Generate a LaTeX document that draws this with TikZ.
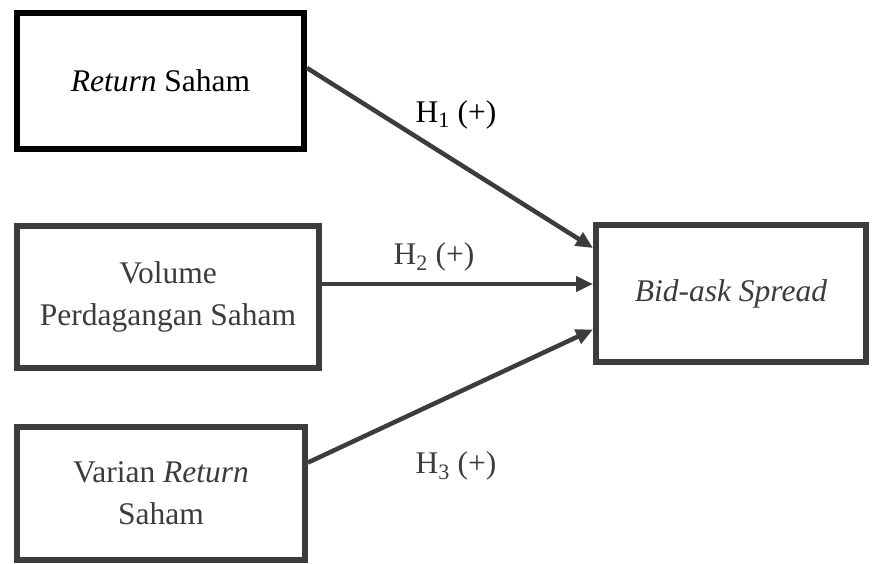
\documentclass[tikz,border=0pt]{standalone}
\usepackage{fontspec}
\setmainfont{Liberation Serif}
\usetikzlibrary{arrows.meta,calc}
\definecolor{ink}{HTML}{3C3C3C}
\begin{document}
\begin{tikzpicture}[x=1pt,y=-1pt,
  varbox/.style={draw=ink,line width=6pt,rectangle,align=center,
    inner sep=0pt,font=\fontsize{31.5}{42}\selectfont,text=ink},
  link/.style={draw=ink,line width=4.5pt,-{Triangle[length=17pt,width=15pt]}},
  hyp/.style={anchor=base,inner sep=0pt,font=\fontsize{31.5}{42}\selectfont,text=ink}]
\useasboundingbox[fill=white] (0,0) rectangle (872,563);

\node[varbox,draw=black,text=black,minimum width=287,minimum height=136] (ret) at (160.5,81) {\textit{Return} Saham};
\node[varbox,minimum width=302,minimum height=142] (vol) at (168,297) {Volume\\Perdagangan Saham};
\node[varbox,minimum width=288,minimum height=133] (var) at (161,493.5) {Varian \textit{Return}\\Saham};
\node[varbox,minimum width=270,minimum height=137] (bas) at (731,293.5) {\textit{Bid-ask Spread}};

\draw[link] ([yshift=13pt]ret.east) -- ([yshift=45.5pt]bas.west);
\draw[link] ([yshift=13pt]vol.east) -- ([yshift=13pt]vol.east -| bas.west);
\draw[link] ([yshift=31pt]var.east) -- ([yshift=-36pt]bas.west);

\node[hyp,text=black] (h1) at (456,122) {H\textsubscript{1} (+)};
\node[hyp] (h2) at (434,264) {H\textsubscript{2} (+)};
\node[hyp] (h3) at (456,473) {H\textsubscript{3} (+)};
\end{tikzpicture}
\end{document}
